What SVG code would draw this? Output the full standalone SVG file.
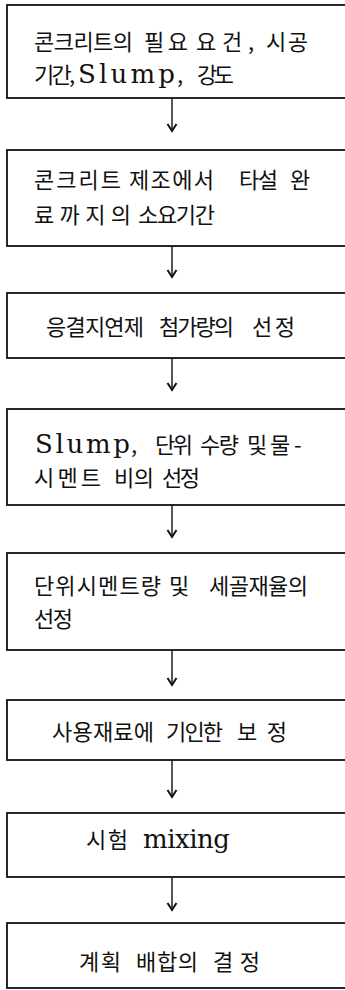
<svg xmlns="http://www.w3.org/2000/svg" width="345" height="990" viewBox="0 0 345 990">
<style>
.box{fill:#fff;stroke:#111;stroke-width:1.8}
.t{font-family:"Noto Sans CJK KR","Liberation Serif",sans-serif;font-size:22px;fill:#111}
.l{font-family:"DejaVu Serif","Liberation Serif",serif;font-size:26px;fill:#111}
.c{stroke:#111;stroke-width:1.4;fill:none}
</style>
<defs>
<marker id="ah" markerWidth="12" markerHeight="12" refX="10" refY="6" orient="auto" markerUnits="userSpaceOnUse" viewBox="0 0 12 12">
<path d="M3,1.5 L10,6 L3,10.5" fill="none" stroke="#111" stroke-width="2"/>
</marker>
</defs>
<rect width="345" height="990" fill="#fff"/>
<g id="connectors">
<line class="c" x1="172" y1="99" x2="172" y2="131" marker-end="url(#ah)"/>
<line class="c" x1="172" y1="246" x2="172" y2="277" marker-end="url(#ah)"/>
<line class="c" x1="172" y1="358" x2="172" y2="390" marker-end="url(#ah)"/>
<line class="c" x1="172" y1="505" x2="172" y2="537" marker-end="url(#ah)"/>
<line class="c" x1="172" y1="650" x2="172" y2="685" marker-end="url(#ah)"/>
<line class="c" x1="172" y1="760" x2="172" y2="797" marker-end="url(#ah)"/>
<line class="c" x1="172" y1="877" x2="172" y2="910" marker-end="url(#ah)"/>
</g>
<g id="n1">
<rect class="box" x="7" y="5" width="360" height="93"/>
<text class="t" x="34" y="50" textLength="99" lengthAdjust="spacing">콘크리트의</text>
<text class="t" x="144" y="50" textLength="44" lengthAdjust="spacing">필요</text>
<text class="t" x="196" y="50" textLength="58" lengthAdjust="spacing">요건,</text>
<text class="t" x="266" y="50" textLength="42" lengthAdjust="spacing">시공</text>
<text class="t" x="34" y="83" textLength="41" lengthAdjust="spacing">기간,</text>
<text class="l" x="78" y="83" textLength="97" lengthAdjust="spacing">Slump</text>
<text class="t" x="177" y="83">,</text>
<text class="t" x="197" y="83" textLength="37" lengthAdjust="spacing">강도</text>
</g>
<g id="n2">
<rect class="box" x="7" y="150" width="360" height="96"/>
<text class="t" x="34" y="188" textLength="87" lengthAdjust="spacing">콘크리트</text>
<text class="t" x="129" y="188" textLength="85" lengthAdjust="spacing">제조에서</text>
<text class="t" x="239" y="188" textLength="39" lengthAdjust="spacing">타설</text>
<text class="t" x="290" y="188">완</text>
<text class="t" x="34" y="223" textLength="97" lengthAdjust="spacing">료까지의</text>
<text class="t" x="138" y="223" textLength="77" lengthAdjust="spacing">소요기간</text>
</g>
<g id="n3">
<rect class="box" x="7" y="293" width="360" height="65"/>
<text class="t" x="46" y="335" textLength="98" lengthAdjust="spacing">응결지연제</text>
<text class="t" x="159" y="335" textLength="75" lengthAdjust="spacing">첨가량의</text>
<text class="t" x="252" y="335" textLength="43" lengthAdjust="spacing">선정</text>
</g>
<g id="n4">
<rect class="box" x="7" y="409" width="360" height="96"/>
<text class="l" x="35" y="453" textLength="95" lengthAdjust="spacing">Slump</text>
<text class="t" x="131" y="453">,</text>
<text class="t" x="155" y="453" textLength="38" lengthAdjust="spacing">단위</text>
<text class="t" x="200" y="453" textLength="39" lengthAdjust="spacing">수량</text>
<text class="t" x="247" y="453">및</text>
<text class="t" x="270" y="453">물</text>
<text class="t" x="294" y="453">-</text>
<text class="t" x="34" y="486" textLength="67" lengthAdjust="spacing">시멘트</text>
<text class="t" x="114" y="486" textLength="40" lengthAdjust="spacing">비의</text>
<text class="t" x="162" y="486" textLength="38" lengthAdjust="spacing">선정</text>
</g>
<g id="n5">
<rect class="box" x="7" y="553" width="360" height="97"/>
<text class="t" x="34" y="594" textLength="127" lengthAdjust="spacing">단위시멘트량</text>
<text class="t" x="169" y="594">및</text>
<text class="t" x="209" y="594" textLength="99" lengthAdjust="spacing">세골재율의</text>
<text class="t" x="34" y="627" textLength="39" lengthAdjust="spacing">선정</text>
</g>
<g id="n6">
<rect class="box" x="7" y="700" width="360" height="60"/>
<text class="t" x="52" y="740" textLength="102" lengthAdjust="spacing">사용재료에</text>
<text class="t" x="166" y="740" textLength="57" lengthAdjust="spacing">기인한</text>
<text class="t" x="237" y="740" textLength="50" lengthAdjust="spacing">보정</text>
</g>
<g id="n7">
<rect class="box" x="7" y="813" width="360" height="64"/>
<text class="t" x="86" y="848" textLength="42" lengthAdjust="spacing">시험</text>
<text class="l" x="143" y="848" textLength="87" lengthAdjust="spacing">mixing</text>
</g>
<g id="n8">
<rect class="box" x="7" y="923" width="360" height="65"/>
<text class="t" x="79" y="970" textLength="42" lengthAdjust="spacing">계획</text>
<text class="t" x="136" y="970" textLength="62" lengthAdjust="spacing">배합의</text>
<text class="t" x="213" y="970" textLength="47" lengthAdjust="spacing">결정</text>
</g>
</svg>
